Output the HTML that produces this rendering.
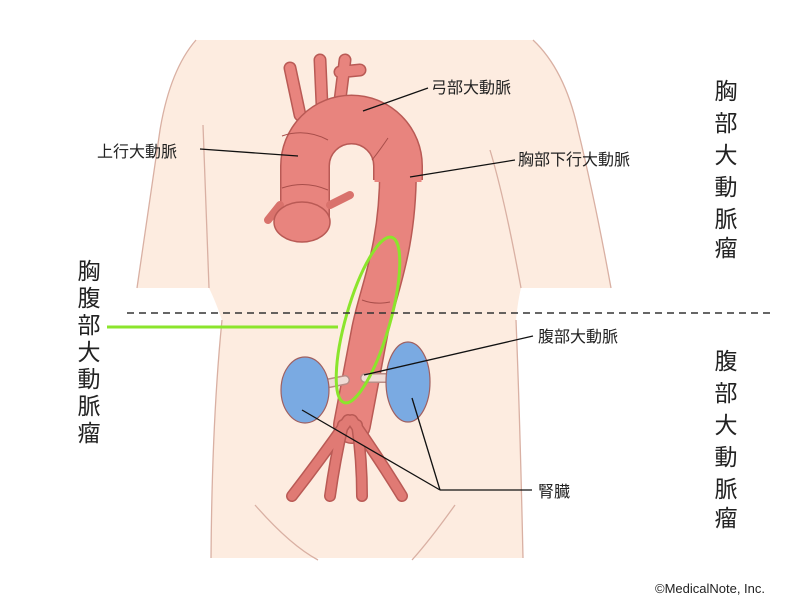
<!DOCTYPE html>
<html><head><meta charset="utf-8"><style>
body{margin:0;background:#fff;width:800px;height:597px;overflow:hidden}
svg{display:block}
text{font-family:"Liberation Sans","Noto Sans CJK JP",sans-serif;fill:#222}
</style></head><body>
<svg width="800" height="597" viewBox="0 0 800 597">
<path d="M196,40 L533,40 Q565,70 578,130 Q595,200 611,288 L521,288 Q518,300 516,320 Q520,420 523,558 L211,558 Q212,420 222,320 Q215,300 209,288 L137,288 Q150,200 160,130 Q170,70 196,40 Z" fill="#fdece0"/>
<g fill="none" stroke="#d9b0a3" stroke-width="1.3">
<path d="M196,40 Q170,70 160,130 Q150,200 137,288"/>
<path d="M533,40 Q565,70 578,130 Q595,200 611,288"/>
<path d="M203,125 Q206,200 209,288"/>
<path d="M490,150 Q505,200 521,288"/>
<path d="M222,320 Q212,420 211,558"/>
<path d="M516,320 Q520,420 523,558"/>
<path d="M255,505 Q290,545 318,560 M455,505 Q430,540 412,560"/>
</g>
<g fill="none" stroke-linecap="round">
<path d="M290,68 L300,115 M320,60 L322,105 M345,60 L340,100 M340,72 L360,70" stroke="#b95a55" stroke-width="13"/>
<path d="M290,68 L300,115 M320,60 L322,105 M345,60 L340,100 M340,72 L360,70" stroke="#e8847e" stroke-width="10"/>
<path d="M398,170 C398,250 378,290 370,330 L352,425" stroke="#b95a55" stroke-width="38"/>
<path d="M398,170 C398,250 378,290 370,330 L352,425" stroke="#e8847e" stroke-width="35"/>
<path d="M305,225 L305,166 A46.5,46.5 0 0 1 398,166 L398,180" stroke="#b95a55" stroke-width="50" stroke-linecap="butt"/>
<path d="M305,225 L305,166 A46.5,46.5 0 0 1 398,166 L398,182" stroke="#e8847e" stroke-width="47" stroke-linecap="butt"/>
<path d="M268,220 L280,205 M330,205 L350,195" stroke="#d9726c" stroke-width="8"/>
<path d="M348,420 Q320,460 292,496 M352,420 Q380,460 402,496 M343,425 Q335,460 330,496 M357,425 Q362,460 362,496" stroke="#b95a55" stroke-width="12"/>
<path d="M348,420 Q320,460 292,496 M352,420 Q380,460 402,496 M343,425 Q335,460 330,496 M357,425 Q362,460 362,496" stroke="#e07a74" stroke-width="9"/>
<path d="M305,388 L345,380 M402,378 L365,378" stroke="#b98c86" stroke-width="10"/>
<path d="M305,388 L345,380 M402,378 L365,378" stroke="#f0dcd6" stroke-width="7"/>
</g>
<ellipse cx="302" cy="222" rx="28" ry="20" fill="#e8847e" stroke="#b95a55" stroke-width="1.5"/>
<path d="M282,136 Q305,128 328,140 M282,188 Q305,180 328,190 M388,138 Q380,150 372,160 M362,300 Q375,305 390,302" fill="none" stroke="#a84e4a" stroke-width="1"/>
<ellipse cx="305" cy="390" rx="24" ry="33" fill="#7aaae2" stroke="#a06060" stroke-width="1.2"/>
<ellipse cx="408" cy="382" rx="22" ry="40" fill="#7aaae2" stroke="#a06060" stroke-width="1.2"/>
<ellipse cx="368" cy="320" rx="22" ry="86" transform="rotate(16 368 320)" fill="none" stroke="#8be52c" stroke-width="3"/>
<line x1="107" y1="327" x2="338" y2="327" stroke="#8be52c" stroke-width="3"/>
<line x1="127" y1="313" x2="775" y2="313" stroke="#333" stroke-width="1.5" stroke-dasharray="7,5"/>
<g stroke="#111" stroke-width="1.3">
<line x1="363" y1="111" x2="428" y2="88"/>
<line x1="200" y1="149" x2="298" y2="156"/>
<line x1="410" y1="177" x2="515" y2="160"/>
<line x1="364" y1="375" x2="533" y2="336"/>
<line x1="302" y1="410" x2="440" y2="490"/>
<line x1="412" y1="398" x2="440" y2="490"/>
<line x1="440" y1="490" x2="532" y2="490"/>
</g>
<g font-size="16">
<text x="431" y="93">弓部大動脈</text>
<text x="97" y="157">上行大動脈</text>
<text x="518" y="165">胸部下行大動脈</text>
<text x="538" y="342">腹部大動脈</text>
<text x="538" y="497">腎臓</text>
</g>
<g font-size="23" text-anchor="middle">
<text x="726" y="99">胸</text><text x="726" y="131">部</text><text x="726" y="163">大</text><text x="726" y="195">動</text><text x="726" y="227">脈</text><text x="726" y="256">瘤</text>
<text x="726" y="369">腹</text><text x="726" y="401">部</text><text x="726" y="433">大</text><text x="726" y="465">動</text><text x="726" y="497">脈</text><text x="726" y="526">瘤</text>
<text x="89" y="279">胸</text><text x="89" y="306">腹</text><text x="89" y="333">部</text><text x="89" y="360">大</text><text x="89" y="387">動</text><text x="89" y="414">脈</text><text x="89" y="441">瘤</text>
</g>
<text x="655" y="593" font-size="13" fill="#444">©MedicalNote, Inc.</text>
</svg>
</body></html>
